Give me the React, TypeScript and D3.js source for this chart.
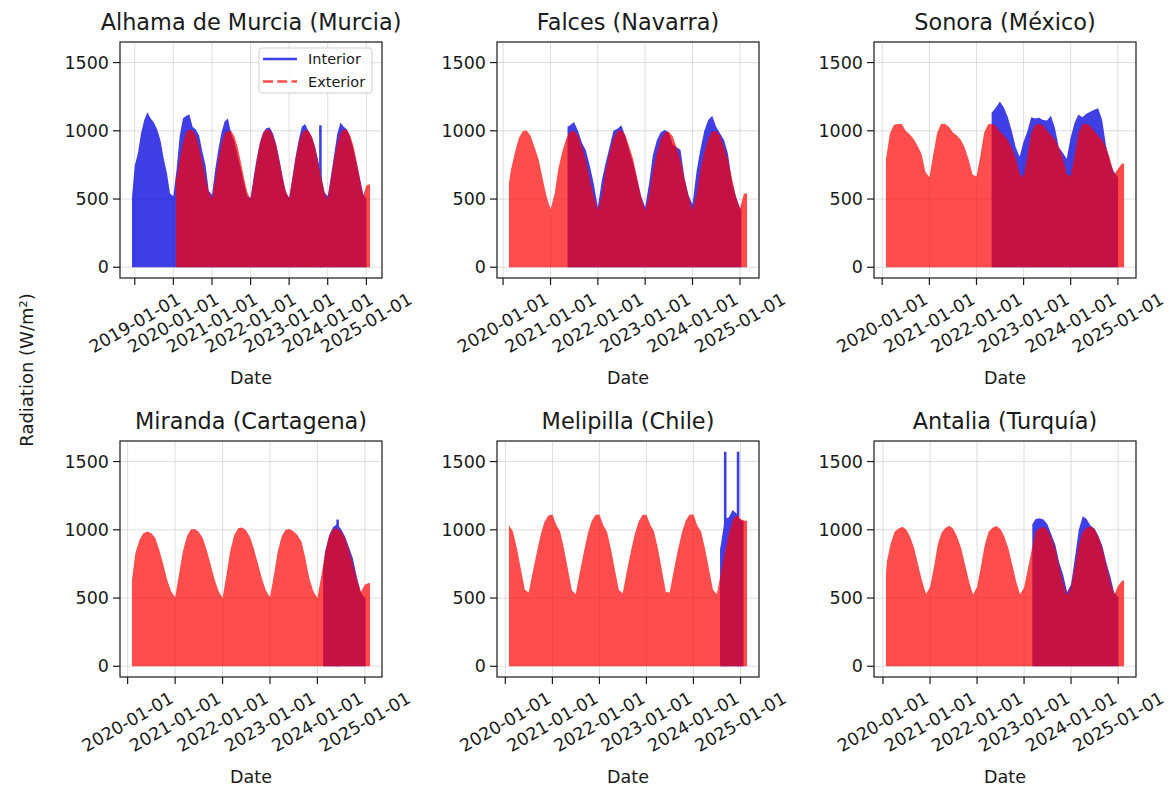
import React from "react";
import * as d3 from "d3";

// Station titles, in grid order (row by row)
const TITLES = [
  "Alhama de Murcia (Murcia)",
  "Falces (Navarra)",
  "Sonora (México)",
  "Miranda (Cartagena)",
  "Melipilla (Chile)",
  "Antalia (Turquía)",
];

const LEGEND_LABELS = ["Interior", "Exterior"];
const Y_TICKS = [0, 500, 1000, 1500];
const X_LABEL = "Date";
const Y_LABEL = "Radiation (W/m²)";

// Daily-peak envelopes, one value per month (value on the 1st of each month),
// starting at the month given in *_FIRST_MONTH. Each series runs from the first
// to the last day of its recording span, with the readings on those two days
// given in *_EDGE_VALUES.
const INTERIOR_FIRST_MONTH = ["2018-12", "2021-05", "2022-04", "2024-02", "2024-07", "2023-03"];
const EXTERIOR_FIRST_MONTH = ["2020-01", "2020-02", "2020-01", "2020-02", "2020-01", "2020-01"];

const INTERIOR_SPAN = [
  ["2018-12-05", "2025-01-02"],
  ["2021-05-12", "2025-01-12"],
  ["2022-04-28", "2025-01-03"],
  ["2024-02-14", "2025-01-06"],
  ["2024-07-26", "2025-01-25"],
  ["2023-03-06", "2025-01-04"],
];
const EXTERIOR_SPAN = [
  ["2020-01-25", "2025-02-05"],
  ["2020-02-15", "2025-02-25"],
  ["2020-01-30", "2025-02-18"],
  ["2020-02-03", "2025-02-10"],
  ["2020-01-29", "2025-02-21"],
  ["2020-01-24", "2025-02-16"],
];

const INTERIOR_EDGE_VALUES = [
  [505, 500],
  [1030, 430],
  [1130, 661],
  [700, 500],
  [860, 1066],
  [1040, 510],
];
const EXTERIOR_EDGE_VALUES = [
  [670, 600],
  [612, 540],
  [780, 758],
  [628, 608],
  [1041, 1066],
  [676, 628],
];

const alhamaInterior = [
  520,
  745, 840, 980, 1080, 1135, 1090, 1060, 1010, 930, 800, 690, 540,
  520, 720, 960, 1090, 1110, 1120, 1030, 1010, 965, 850, 750, 560,
  530, 720, 860, 990, 1070, 1090, 980, 920, 820, 720, 610, 520,
  510, 670, 800, 920, 990, 1020, 1025, 980, 900, 790, 660, 550,
  510, 660, 800, 930, 1030, 1050, 1000, 960, 890, 790, 670, 550,
  520, 670, 820, 980, 1060, 1030, 1010, 950, 860, 760, 650, 540,
  500, 500,
];
const alhamaExterior = [
  500, 650, 790, 910, 985, 1010, 1005, 965, 885, 775, 655, 555,
  500, 645, 785, 905, 980, 998, 1000, 960, 880, 770, 650, 550,
  495, 650, 790, 915, 985, 1012, 1010, 965, 890, 775, 655, 555,
  500, 648, 788, 910, 982, 1005, 1002, 962, 885, 772, 652, 552,
  495, 652, 792, 912, 990, 1012, 1008, 966, 888, 776, 650, 520,
  600, 610, 600,
];

const falcesInterior = [
  1030, 1040, 1065, 1000, 910, 855, 740, 610,
  440, 640, 760, 880, 1000, 1015, 1040, 960, 850, 760, 640, 520,
  440, 620, 820, 930, 990, 1005, 990, 900, 880, 860, 650, 530,
  460, 700, 860, 1000, 1080, 1110, 1030, 980, 930, 830, 620, 520,
  430, 430,
];
const falcesExterior = [
  530, 710, 840, 945, 998, 1002, 962, 875, 790, 650, 520,
  425, 535, 715, 845, 940, 995, 1000, 965, 880, 785, 645, 520,
  420, 530, 710, 840, 945, 1000, 1005, 968, 882, 790, 650, 515,
  418, 528, 708, 838, 938, 990, 995, 960, 875, 785, 645, 518,
  420, 532, 712, 842, 942, 996, 1000, 962, 878, 788, 648, 515,
  430, 540, 545,
];

const sonoraInterior = [
  1120, 1135, 1170, 1215, 1170, 1100, 1000, 880, 810,
  920, 1000, 1100, 1090, 1095, 1080, 1075, 1110, 1020, 880, 840, 795,
  950, 1060, 1120, 1100, 1125, 1140, 1155, 1165, 1080, 890, 770, 700,
  660, 660,
];
const sonoraExterior = [
  780, 800, 980, 1045, 1050, 1050, 1000, 975, 940, 890, 830, 700,
  660, 830, 980, 1050, 1052, 1030, 990, 965, 935, 880, 790, 680,
  665, 820, 985, 1048, 1052, 1035, 995, 968, 930, 875, 800, 690,
  660, 825, 980, 1045, 1050, 1040, 1000, 970, 935, 880, 800, 685,
  665, 822, 982, 1048, 1053, 1035, 998, 966, 932, 878, 795, 680,
  720, 760, 760,
];

const mirandaInterior = [
  670, 840, 960, 1020, 1040, 1005, 950, 870, 790, 650, 540,
  500, 500,
];
const mirandaExterior = [
  640, 830, 925, 975, 988, 975, 940, 850, 750, 630, 550,
  505, 680, 840, 950, 1002, 1005, 985, 940, 850, 745, 635, 550,
  500, 675, 845, 960, 1012, 1017, 995, 945, 855, 750, 640, 555,
  505, 670, 835, 950, 1000, 1005, 990, 960, 915, 790, 640, 550,
  500, 665, 840, 955, 1005, 1012, 990, 940, 850, 745, 635, 545,
  600, 610, 610,
];

const melipillaInterior = [760, 890, 1080, 1090, 1145, 1120, 1070, 1060];
const melipillaExterior = [
  1100, 1030, 985, 860, 710, 560, 540, 690, 830, 960, 1060, 1105,
  1112, 1035, 990, 860, 712, 555, 530, 685, 830, 965, 1062, 1108,
  1112, 1032, 985, 858, 708, 558, 535, 690, 835, 962, 1058, 1108,
  1110, 1035, 988, 862, 705, 545, 540, 700, 845, 970, 1065, 1110,
  1112, 1030, 985, 860, 710, 560, 530, 680, 830, 965, 1070, 1110,
  1080, 1066, 1066,
];

const antaliaInterior = [
  1040, 1080, 1085, 1075, 1040, 965, 890, 760, 670, 545,
  600, 800, 1000, 1100, 1080, 1030, 1010, 955, 880, 760, 660, 540,
  505, 505,
];
const antaliaExterior = [
  560, 770, 900, 985, 1010, 1022, 1000, 945, 860, 740, 620, 530,
  580, 730, 890, 980, 1015, 1029, 1005, 945, 860, 740, 615, 525,
  580, 735, 885, 985, 1015, 1028, 1005, 950, 865, 745, 620, 528,
  575, 720, 850, 985, 1012, 1022, 1000, 945, 860, 735, 610, 520,
  580, 735, 890, 985, 1015, 1025, 1005, 948, 862, 742, 615, 525,
  590, 628, 628,
];

const INTERIOR_VALUES = [
  alhamaInterior, falcesInterior, sonoraInterior,
  mirandaInterior, melipillaInterior, antaliaInterior,
];
const EXTERIOR_VALUES = [
  alhamaExterior, falcesExterior, sonoraExterior,
  mirandaExterior, melipillaExterior, antaliaExterior,
];

// Single-day readings that stand out from the interior envelope
const INTERIOR_SPIKES: [string, number][][] = [
  [["2023-10-24", 1040]],
  [],
  [],
  [["2024-06-05", 1075]],
  [["2024-09-04", 1572], ["2024-12-13", 1572]],
  [],
];

// Short outages of the interior sensor
const INTERIOR_GAPS: [string, string][][] = [
  [],
  [["2023-05-14", "2023-05-20"]],
  [["2023-05-10", "2023-05-16"]],
  [],
  [],
  [["2023-05-04", "2023-05-10"]],
];

// Layout
const FIG_W = 1172;
const FIG_H = 789;
const COL_X = [120, 497, 874];
const ROW_Y = [42, 441];
const AX_W = 262;
const AX_H = 236;

const FONT = "DejaVu Sans, Verdana, sans-serif";
const TEXT = "#1a1a1a";
const INTERIOR_COLOR = "#0000dd";
const EXTERIOR_COLOR = "#ff0000";
const INTERIOR_ALPHA = 0.75;
const EXTERIOR_ALPHA = 0.7;

const parseDay = d3.utcParse("%Y-%m-%d");
const parseMonth = d3.utcParse("%Y-%m");
const fmtDate = d3.utcFormat("%Y-%m-%d");

type Pt = { date: Date; value: number };

// monthly envelope trimmed to the recording span, with the edge-day readings
function series(first: string, values: number[], span: Date[], edges: number[]): Pt[] {
  const start = parseMonth(first) as Date;
  const inner = values
    .map((v, i) => ({ date: d3.utcMonth.offset(start, i), value: v }))
    .filter((d) => d.date > span[0] && d.date < span[1]);
  return [{ date: span[0], value: edges[0] }, ...inner, { date: span[1], value: edges[1] }];
}

// shared y range across all panels (5% margin around the data)
const allValues = [
  ...INTERIOR_VALUES.flat(),
  ...EXTERIOR_VALUES.flat(),
  ...INTERIOR_SPIKES.flat().map((s) => s[1]),
  0,
];
const yLo = d3.min(allValues) as number;
const yHi = d3.max(allValues) as number;
const yPad = (yHi - yLo) * 0.05;

function Panel({ index }: { index: number }) {
  const x0 = COL_X[index % 3];
  const y0 = ROW_Y[Math.floor(index / 3)];
  const yBottom = y0 + AX_H;

  const intSpan = INTERIOR_SPAN[index].map((s) => parseDay(s) as Date);
  const extSpan = EXTERIOR_SPAN[index].map((s) => parseDay(s) as Date);
  const interior = series(INTERIOR_FIRST_MONTH[index], INTERIOR_VALUES[index], intSpan, INTERIOR_EDGE_VALUES[index]);
  const exterior = series(EXTERIOR_FIRST_MONTH[index], EXTERIOR_VALUES[index], extSpan, EXTERIOR_EDGE_VALUES[index]);
  const [intStart, intEnd] = intSpan;
  const [extStart, extEnd] = extSpan;

  const lo = Math.min(+intStart, +extStart);
  const hi = Math.max(+intEnd, +extEnd);
  const pad = (hi - lo) * 0.05;
  const x = d3
    .scaleUtc()
    .domain([new Date(lo - pad), new Date(hi + pad)])
    .range([x0, x0 + AX_W]);
  const y = d3
    .scaleLinear()
    .domain([yLo - yPad, yHi + yPad])
    .range([yBottom, y0]);

  const area = d3
    .area<Pt>()
    .x((d) => x(d.date))
    .y0(y(0))
    .y1((d) => y(d.value))
    .curve(d3.curveLinear);

  // interior visible windows: its span minus sensor outages
  const windows: [Date, Date][] = [];
  let cur = intStart;
  for (const [a, b] of INTERIOR_GAPS[index]) {
    windows.push([cur, parseDay(a) as Date]);
    cur = parseDay(b) as Date;
  }
  windows.push([cur, intEnd]);

  const xTicks = x.ticks(d3.utcYear.every(1) as d3.TimeInterval);
  const idInt = `int-clip-${index}`;

  return (
    <g>
      <defs>
        <clipPath id={idInt}>
          {windows.map(([a, b], i) => (
            <rect key={i} x={x(a) - 0.5} y={y0} width={Math.max(0, x(b) - x(a) + 1)} height={AX_H} />
          ))}
        </clipPath>
      </defs>

      {/* grid */}
      <g stroke="#b0b0b0" strokeOpacity={0.4} strokeWidth={1}>
        {xTicks.map((t, i) => (
          <line key={`gx${i}`} x1={x(t)} x2={x(t)} y1={y0} y2={yBottom} />
        ))}
        {Y_TICKS.map((t) => (
          <line key={`gy${t}`} x1={x0} x2={x0 + AX_W} y1={y(t)} y2={y(t)} />
        ))}
      </g>

      {/* interior sensor */}
      <g opacity={INTERIOR_ALPHA}>
        <path
          d={area(interior) as string}
          fill={INTERIOR_COLOR}
          clipPath={`url(#${idInt})`}
        />
        {INTERIOR_SPIKES[index].map(([d, v], i) => {
          const xd = x(parseDay(d) as Date);
          return (
            <line
              key={i}
              x1={xd}
              x2={xd}
              y1={y(0)}
              y2={y(v)}
              stroke={INTERIOR_COLOR}
              strokeWidth={2.6}
            />
          );
        })}
      </g>

      {/* exterior sensor */}
      <g opacity={EXTERIOR_ALPHA}>
        <path d={area(exterior) as string} fill={EXTERIOR_COLOR} />
      </g>

      {/* frame */}
      <rect
        x={x0}
        y={y0}
        width={AX_W}
        height={AX_H}
        fill="none"
        stroke={TEXT}
        strokeWidth={1.2}
      />

      {/* y axis */}
      {Y_TICKS.map((t) => (
        <g key={`yt${t}`}>
          <line x1={x0 - 7} x2={x0} y1={y(t)} y2={y(t)} stroke={TEXT} strokeWidth={1.2} />
          <text
            x={x0 - 11}
            y={y(t)}
            textAnchor="end"
            dominantBaseline="central"
            fontSize={17.5}
            fontFamily={FONT}
            fill={TEXT}
          >
            {t}
          </text>
        </g>
      ))}

      {/* x axis */}
      {xTicks.map((t, i) => (
        <g key={`xt${i}`}>
          <line x1={x(t)} x2={x(t)} y1={yBottom} y2={yBottom + 7} stroke={TEXT} strokeWidth={1.2} />
          <text
            transform={`translate(${x(t)},${yBottom + 45}) rotate(-30)`}
            textAnchor="middle"
            dominantBaseline="central"
            fontSize={17.5}
            fontFamily={FONT}
            fill={TEXT}
          >
            {fmtDate(t)}
          </text>
        </g>
      ))}

      <text
        x={x0 + AX_W / 2}
        y={yBottom + 106}
        textAnchor="middle"
        fontSize={17.5}
        fontFamily={FONT}
        fill={TEXT}
      >
        {X_LABEL}
      </text>

      <text
        x={x0 + AX_W / 2}
        y={y0 - 12}
        textAnchor="middle"
        fontSize={22.4}
        fontFamily={FONT}
        fill={TEXT}
      >
        {TITLES[index]}
      </text>
    </g>
  );
}

function Legend() {
  const right = COL_X[0] + AX_W - 10;
  const top = ROW_Y[0] + 6;
  const w = 113;
  const h = 45;
  const left = right - w;
  const rows = [top + 11, top + 33.5];
  return (
    <g>
      <rect
        x={left}
        y={top}
        width={w}
        height={h}
        rx={3}
        fill="#ffffff"
        fillOpacity={0.8}
        stroke="#d0d0d0"
        strokeWidth={1}
      />
      {LEGEND_LABELS.map((label, i) => (
        <g key={label}>
          <line
            x1={left + 4}
            x2={left + 38}
            y1={rows[i]}
            y2={rows[i]}
            stroke={i === 0 ? INTERIOR_COLOR : EXTERIOR_COLOR}
            strokeOpacity={i === 0 ? INTERIOR_ALPHA : EXTERIOR_ALPHA}
            strokeWidth={2.4}
            strokeDasharray={i === 0 ? undefined : "10,4.3"}
          />
          <text
            x={left + 49}
            y={rows[i]}
            dominantBaseline="central"
            fontSize={14.5}
            fontFamily={FONT}
            fill={TEXT}
          >
            {label}
          </text>
        </g>
      ))}
    </g>
  );
}

export default function App() {
  return (
    <svg
      width={FIG_W}
      height={FIG_H}
      viewBox={`0 0 ${FIG_W} ${FIG_H}`}
      style={{ position: "absolute", left: 0, top: 0, background: "#ffffff" }}
    >
      <rect x={0} y={0} width={FIG_W} height={FIG_H} fill="#ffffff" />
      {TITLES.map((_, i) => (
        <Panel key={i} index={i} />
      ))}
      <Legend />
      <text
        transform={`translate(26,370) rotate(-90)`}
        textAnchor="middle"
        dominantBaseline="central"
        fontSize={18}
        fontFamily={FONT}
        fill={TEXT}
      >
        {Y_LABEL}
      </text>
    </svg>
  );
}
